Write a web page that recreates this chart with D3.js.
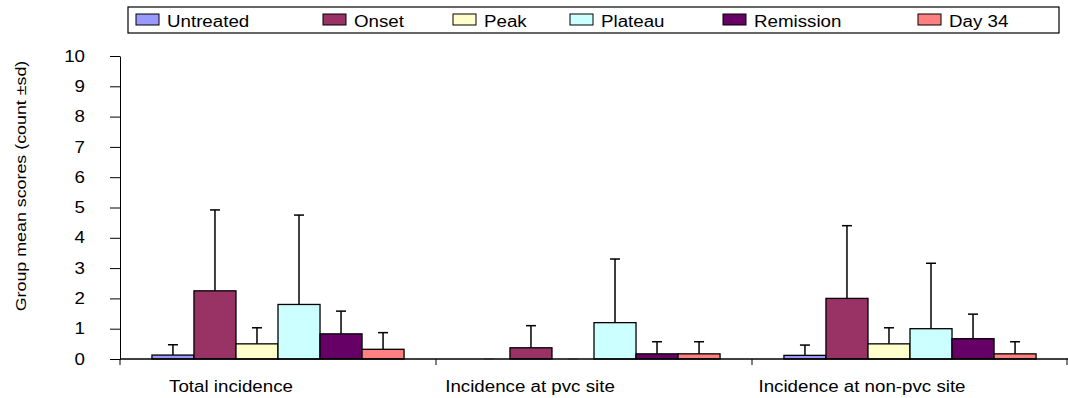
<!DOCTYPE html>
<html>
<head>
<meta charset="utf-8">
<script src="https://cdn.jsdelivr.net/npm/d3@7/dist/d3.min.js"></script>
<style>
  html, body { margin: 0; padding: 0; background: #fff; }
  svg { display: block; font-family: "Liberation Sans", Arial, sans-serif; }
</style>
</head>
<body>
<svg id="chart" width="1068" height="398"></svg>
<script>
// Sites scored
const categories = ["Total incidence", "Incidence at pvc site", "Incidence at non-pvc site"];
// Disease stages
const groups = ["Untreated", "Onset", "Peak", "Plateau", "Remission", "Day 34"];
const groupColors = ["#9999FF", "#993366", "#FFFFCC", "#CCFFFF", "#660066", "#FF8080"];

// Group means per category (order follows `groups`)
const meanTotal  = [0.13, 2.25, 0.50, 1.80, 0.83, 0.32];
const meanPvc    = [0.00, 0.37, 0.00, 1.20, 0.17, 0.17];
const meanNonPvc = [0.12, 2.00, 0.50, 1.00, 0.67, 0.17];

// Standard deviations per category
const sdTotal  = [0.34, 2.67, 0.53, 2.95, 0.75, 0.55];
const sdPvc    = [0.00, 0.73, 0.00, 2.10, 0.40, 0.40];
const sdNonPvc = [0.34, 2.40, 0.53, 2.16, 0.81, 0.40];

const yTicks = [0, 1, 2, 3, 4, 5, 6, 7, 8, 9, 10];

const means = [meanTotal, meanPvc, meanNonPvc];
const sds = [sdTotal, sdPvc, sdNonPvc];

// Wide-set text: glyphs are stretched along the reading direction
const STRETCH = 1.17;
function widen(sel, factor) {
  sel.each(function () {
    const w = this.getComputedTextLength();
    d3.select(this).attr("textLength", w * (factor || STRETCH)).attr("lengthAdjust", "spacingAndGlyphs");
  });
}

const svg = d3.select("#chart");
const plot = { left: 120, right: 1068, top: 56, bottom: 359 };

const x0 = d3.scaleBand().domain(categories).range([plot.left, plot.right]).paddingInner(0).paddingOuter(0);
const x1 = d3.scaleBand().domain(groups).range([0, x0.bandwidth()]).paddingOuter(0.76).paddingInner(0);
const y = d3.scaleLinear().domain([0, 10]).range([plot.bottom, plot.top]);
const color = d3.scaleOrdinal().domain(groups).range(groupColors);

// Y axis
const yAxis = svg.append("g")
  .attr("transform", `translate(${plot.left},0)`)
  .call(d3.axisLeft(y).tickValues(yTicks).tickSize(10).tickPadding(25).tickSizeOuter(0));
yAxis.select(".domain").attr("stroke", "#000");
yAxis.selectAll(".tick line").attr("stroke", "#000");
yAxis.selectAll(".tick text").attr("font-size", 16).attr("fill", "#000")
  .attr("font-family", "Liberation Sans, Arial, sans-serif")
  .call(widen);

// Y axis title
svg.append("text")
  .attr("transform", `translate(26,186) rotate(-90)`)
  .attr("text-anchor", "middle")
  .attr("font-size", 15.5)
  .text("Group mean scores (count ±sd)")
  .call(widen, 1.15);

// Bars and upward error bars
const cat = svg.append("g").selectAll("g")
  .data(categories)
  .join("g")
  .attr("transform", d => `translate(${x0(d)},0)`);

const rows = ci => groups.map((g, gi) => ({ g, m: means[ci][gi], sd: sds[ci][gi] }));

cat.each(function (c, ci) {
  const g = d3.select(this);
  const data = rows(ci);
  g.selectAll("rect")
    .data(data)
    .join("rect")
    .attr("x", d => x1(d.g))
    .attr("y", d => y(d.m))
    .attr("width", x1.bandwidth())
    .attr("height", d => y(0) - y(d.m))
    .attr("fill", d => color(d.g))
    .attr("stroke", d => d.m > 0 ? "#000" : "none")
    .attr("stroke-width", 1.3);

  const err = g.selectAll("g.err").data(data).join("g").attr("class", "err");
  err.append("line")
    .attr("x1", d => x1(d.g) + x1.bandwidth() / 2)
    .attr("x2", d => x1(d.g) + x1.bandwidth() / 2)
    .attr("y1", d => y(d.m))
    .attr("y2", d => y(d.m + d.sd))
    .attr("stroke", "#000").attr("stroke-width", 1.5);
  err.append("line")
    .attr("x1", d => x1(d.g) + x1.bandwidth() / 2 - 5)
    .attr("x2", d => x1(d.g) + x1.bandwidth() / 2 + 5)
    .attr("y1", d => y(d.m + d.sd))
    .attr("y2", d => y(d.m + d.sd))
    .attr("stroke", d => d.m > 0 ? "#000" : "#bbb").attr("stroke-width", 1.5);
});

// X axis
const xAxis = svg.append("g")
  .attr("transform", `translate(0,${plot.bottom})`);
xAxis.append("line")
  .attr("x1", plot.left).attr("x2", plot.right)
  .attr("stroke", "#000").attr("stroke-width", 1.5);
xAxis.selectAll("line.tick")
  .data(categories.map(c => x0(c)).concat([plot.right - 1]))
  .join("line")
  .attr("class", "tick")
  .attr("x1", d => d).attr("x2", d => d)
  .attr("y1", 0).attr("y2", 6)
  .attr("stroke", "#000");
// Category labels sit left of the band centre
const labelShift = [-47, -64, -48];
xAxis.selectAll("text")
  .data(categories)
  .join("text")
  .attr("x", (d, i) => x0(d) + x0.bandwidth() / 2 + labelShift[i])
  .attr("y", 33)
  .attr("text-anchor", "middle")
  .attr("font-size", 16)
  .text(d => d)
  .call(widen);

// Legend
const legend = svg.append("g");
legend.append("rect")
  .attr("x", 128).attr("y", 7).attr("width", 931).attr("height", 26)
  .attr("fill", "#fff").attr("stroke", "#000").attr("stroke-width", 1.2);
const legendX = [136, 323, 453, 570, 723, 918];
const li = legend.selectAll("g.item").data(groups).join("g")
  .attr("class", "item")
  .attr("transform", (d, i) => `translate(${legendX[i]},14)`);
li.append("rect")
  .attr("width", 23).attr("height", 11)
  .attr("fill", d => color(d)).attr("stroke", "#000").attr("stroke-width", 1);
li.append("text")
  .attr("x", 31).attr("y", 13)
  .attr("font-size", 16)
  .text(d => d)
  .call(widen);
</script>
</body>
</html>
